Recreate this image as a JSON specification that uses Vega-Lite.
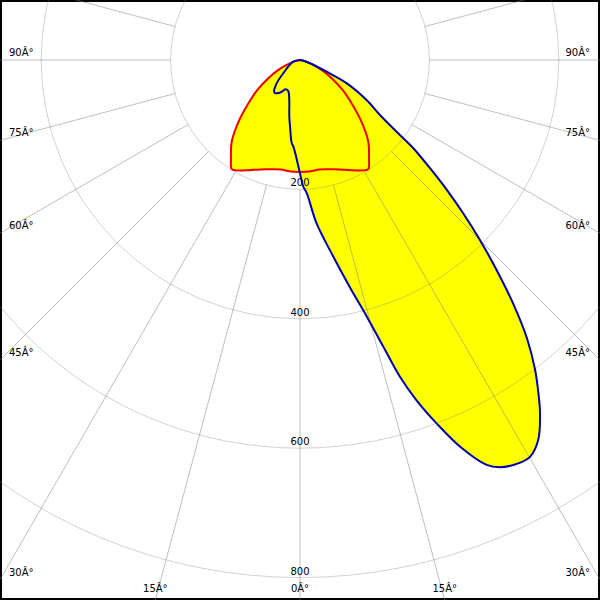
{
  "$schema": "https://vega.github.io/schema/vega-lite/v6.json",
  "width": 600,
  "height": 600,
  "autosize": {"type": "fit", "contains": "padding"},
  "padding": 0,
  "background": "white",
  "config": {
    "view": {"stroke": "black", "strokeWidth": 4},
    "text": {"font": "DejaVu Sans", "fontSize": 10, "color": "black"}
  },
  "datasets": {
    "red": [
      {"a": -90, "i": 0}, {"a": -85, "i": 1}, {"a": -80, "i": 4}, {"a": -75, "i": 10},
      {"a": -70, "i": 22}, {"a": -65, "i": 38}, {"a": -60, "i": 57}, {"a": -55, "i": 80},
      {"a": -50, "i": 104}, {"a": -45, "i": 134}, {"a": -40, "i": 164}, {"a": -35, "i": 186},
      {"a": -32, "i": 199}, {"a": -30, "i": 197}, {"a": -25, "i": 188}, {"a": -20, "i": 180},
      {"a": -15, "i": 175}, {"a": -10, "i": 172}, {"a": -5, "i": 173}, {"a": 0, "i": 173},
      {"a": 5, "i": 173}, {"a": 10, "i": 172}, {"a": 15, "i": 175}, {"a": 20, "i": 180},
      {"a": 25, "i": 188}, {"a": 30, "i": 197}, {"a": 32, "i": 199}, {"a": 35, "i": 186},
      {"a": 40, "i": 164}, {"a": 45, "i": 134}, {"a": 50, "i": 104}, {"a": 55, "i": 80},
      {"a": 60, "i": 57}, {"a": 65, "i": 38}, {"a": 70, "i": 22}, {"a": 75, "i": 10},
      {"a": 80, "i": 4}, {"a": 85, "i": 1}, {"a": 90, "i": 0}
    ],
    "blue": [
      {"a": -90, "i": 0}, {"a": -76, "i": 11}, {"a": -51.5, "i": 33}, {"a": -45, "i": 51},
      {"a": -39.5, "i": 63}, {"a": -37, "i": 64}, {"a": -33, "i": 61}, {"a": -29, "i": 55},
      {"a": -27, "i": 51}, {"a": -24, "i": 50}, {"a": -20, "i": 52}, {"a": -15, "i": 64},
      {"a": -10.7, "i": 89}, {"a": -8.5, "i": 104}, {"a": -5.7, "i": 129}, {"a": -4.4, "i": 134},
      {"a": 0, "i": 175}, {"a": 1.5, "i": 196}, {"a": 2.9, "i": 206}, {"a": 5.8, "i": 254},
      {"a": 9.6, "i": 308}, {"a": 12.4, "i": 360}, {"a": 14.6, "i": 410}, {"a": 16.2, "i": 461},
      {"a": 17.5, "i": 513}, {"a": 18.9, "i": 556}, {"a": 20.6, "i": 600}, {"a": 22.5, "i": 647},
      {"a": 24.75, "i": 689}, {"a": 26.15, "i": 701}, {"a": 28, "i": 708}, {"a": 30.1, "i": 709},
      {"a": 32.1, "i": 693}, {"a": 34.2, "i": 660}, {"a": 35.8, "i": 629}, {"a": 37.2, "i": 601},
      {"a": 39.2, "i": 555}, {"a": 41.2, "i": 500}, {"a": 43.1, "i": 445}, {"a": 45, "i": 393},
      {"a": 46.8, "i": 346}, {"a": 48.5, "i": 303}, {"a": 50.2, "i": 262}, {"a": 52.1, "i": 222},
      {"a": 53.4, "i": 186}, {"a": 55.5, "i": 150}, {"a": 59, "i": 120}, {"a": 63.5, "i": 81},
      {"a": 66.3, "i": 45}, {"a": 71.7, "i": 16}, {"a": 80, "i": 4}, {"a": 90, "i": 0}
    ],
    "rings": [{"r": 200}, {"r": 400}, {"r": 600}, {"r": 800}],
    "spokes": [
      {"a": -165}, {"a": -150}, {"a": -135}, {"a": -120}, {"a": -105}, {"a": -90},
      {"a": -75}, {"a": -60}, {"a": -45}, {"a": -30}, {"a": -15}, {"a": 0},
      {"a": 15}, {"a": 30}, {"a": 45}, {"a": 60}, {"a": 75}, {"a": 90},
      {"a": 105}, {"a": 120}, {"a": 135}, {"a": 150}, {"a": 165}, {"a": 180}
    ],
    "sideLabels": [
      {"a": 90, "t": "90Â°"}, {"a": 75, "t": "75Â°"}, {"a": 60, "t": "60Â°"},
      {"a": 45, "t": "45Â°"}, {"a": 30, "t": "30Â°"}
    ],
    "bottomLabels": [
      {"a": -15, "t": "15Â°"}, {"a": 0, "t": "0Â°"}, {"a": 15, "t": "15Â°"}
    ]
  },
  "layer": [
    {
      "data": {"name": "red"},
      "transform": [
        {"calculate": "datum.i*sin(datum.a*PI/180)", "as": "x"},
        {"calculate": "-datum.i*cos(datum.a*PI/180)", "as": "y"}
      ],
      "mark": {"type": "line", "fill": "#ffff00", "strokeWidth": 0, "interpolate": "catmull-rom", "clip": true},
      "encoding": {
        "x": {"field": "x", "type": "quantitative", "scale": {"domain": [-463.7, 463.7], "nice": false, "zero": false}, "axis": null},
        "y": {"field": "y", "type": "quantitative", "scale": {"domain": [-834.6, 92.7], "nice": false, "zero": false}, "axis": null},
        "order": {"field": "a", "type": "quantitative"}
      }
    },
    {
      "data": {"name": "blue"},
      "transform": [
        {"calculate": "datum.i*sin(datum.a*PI/180)", "as": "x"},
        {"calculate": "-datum.i*cos(datum.a*PI/180)", "as": "y"}
      ],
      "mark": {"type": "line", "fill": "#ffff00", "strokeWidth": 0, "interpolate": "catmull-rom", "clip": true},
      "encoding": {
        "x": {"field": "x", "type": "quantitative", "scale": {"domain": [-463.7, 463.7], "nice": false, "zero": false}, "axis": null},
        "y": {"field": "y", "type": "quantitative", "scale": {"domain": [-834.6, 92.7], "nice": false, "zero": false}, "axis": null},
        "order": {"field": "a", "type": "quantitative"}
      }
    },
    {
      "data": {"name": "rings"},
      "mark": {"type": "point", "shape": "circle", "filled": false, "color": "#808080", "strokeOpacity": 0.5, "strokeWidth": 1, "clip": true},
      "encoding": {
        "x": {"datum": 0, "type": "quantitative", "scale": {"domain": [-463.7, 463.7], "nice": false, "zero": false}, "axis": null},
        "y": {"datum": 0, "type": "quantitative", "scale": {"domain": [-834.6, 92.7], "nice": false, "zero": false}, "axis": null},
        "size": {"field": "r", "type": "quantitative", "scale": {"type": "pow", "exponent": 2, "domain": [0, 800], "range": [0, 1071640]}, "legend": null}
      }
    },
    {
      "data": {"name": "spokes"},
      "transform": [
        {"calculate": "200*sin(datum.a*PI/180)", "as": "x"},
        {"calculate": "-200*cos(datum.a*PI/180)", "as": "y"},
        {"calculate": "1500*sin(datum.a*PI/180)", "as": "x2"},
        {"calculate": "-1500*cos(datum.a*PI/180)", "as": "y2"}
      ],
      "mark": {"type": "rule", "color": "#808080", "strokeOpacity": 0.5, "strokeWidth": 1, "clip": true},
      "encoding": {
        "x": {"field": "x", "type": "quantitative", "scale": {"domain": [-463.7, 463.7], "nice": false, "zero": false}, "axis": null},
        "y": {"field": "y", "type": "quantitative", "scale": {"domain": [-834.6, 92.7], "nice": false, "zero": false}, "axis": null},
        "x2": {"field": "x2"},
        "y2": {"field": "y2"}
      }
    },
    {
      "data": {"name": "red"},
      "transform": [
        {"calculate": "datum.i*sin(datum.a*PI/180)", "as": "x"},
        {"calculate": "-datum.i*cos(datum.a*PI/180)", "as": "y"}
      ],
      "mark": {"type": "line", "color": "#ee0000", "strokeWidth": 2, "interpolate": "catmull-rom", "clip": true},
      "encoding": {
        "x": {"field": "x", "type": "quantitative", "scale": {"domain": [-463.7, 463.7], "nice": false, "zero": false}, "axis": null},
        "y": {"field": "y", "type": "quantitative", "scale": {"domain": [-834.6, 92.7], "nice": false, "zero": false}, "axis": null},
        "order": {"field": "a", "type": "quantitative"}
      }
    },
    {
      "data": {"name": "blue"},
      "transform": [
        {"calculate": "datum.i*sin(datum.a*PI/180)", "as": "x"},
        {"calculate": "-datum.i*cos(datum.a*PI/180)", "as": "y"}
      ],
      "mark": {"type": "line", "color": "#0000aa", "strokeWidth": 2, "interpolate": "catmull-rom", "clip": true},
      "encoding": {
        "x": {"field": "x", "type": "quantitative", "scale": {"domain": [-463.7, 463.7], "nice": false, "zero": false}, "axis": null},
        "y": {"field": "y", "type": "quantitative", "scale": {"domain": [-834.6, 92.7], "nice": false, "zero": false}, "axis": null},
        "order": {"field": "a", "type": "quantitative"}
      }
    },
    {
      "data": {"name": "rings"},
      "transform": [{"calculate": "-datum.r", "as": "y"}],
      "mark": {"type": "text", "align": "center", "baseline": "middle", "dy": -6},
      "encoding": {
        "x": {"datum": 0, "type": "quantitative", "scale": {"domain": [-463.7, 463.7], "nice": false, "zero": false}, "axis": null},
        "y": {"field": "y", "type": "quantitative", "scale": {"domain": [-834.6, 92.7], "nice": false, "zero": false}, "axis": null},
        "text": {"field": "r", "type": "quantitative"}
      }
    },
    {
      "data": {"name": "sideLabels"},
      "transform": [
        {"calculate": "-463.7", "as": "x"},
        {"calculate": "-463.7/tan(datum.a*PI/180)", "as": "y"}
      ],
      "mark": {"type": "text", "align": "left", "baseline": "middle", "dx": 9, "dy": -7},
      "encoding": {
        "x": {"field": "x", "type": "quantitative", "scale": {"domain": [-463.7, 463.7], "nice": false, "zero": false}, "axis": null},
        "y": {"field": "y", "type": "quantitative", "scale": {"domain": [-834.6, 92.7], "nice": false, "zero": false}, "axis": null},
        "text": {"field": "t", "type": "nominal"}
      }
    },
    {
      "data": {"name": "sideLabels"},
      "transform": [
        {"calculate": "463.7", "as": "x"},
        {"calculate": "-463.7/tan(datum.a*PI/180)", "as": "y"}
      ],
      "mark": {"type": "text", "align": "right", "baseline": "middle", "dx": -10, "dy": -7},
      "encoding": {
        "x": {"field": "x", "type": "quantitative", "scale": {"domain": [-463.7, 463.7], "nice": false, "zero": false}, "axis": null},
        "y": {"field": "y", "type": "quantitative", "scale": {"domain": [-834.6, 92.7], "nice": false, "zero": false}, "axis": null},
        "text": {"field": "t", "type": "nominal"}
      }
    },
    {
      "data": {"name": "bottomLabels"},
      "transform": [
        {"calculate": "834.6*tan(datum.a*PI/180)", "as": "x"},
        {"calculate": "-834.6", "as": "y"}
      ],
      "mark": {"type": "text", "align": "center", "baseline": "middle", "dy": -11},
      "encoding": {
        "x": {"field": "x", "type": "quantitative", "scale": {"domain": [-463.7, 463.7], "nice": false, "zero": false}, "axis": null},
        "y": {"field": "y", "type": "quantitative", "scale": {"domain": [-834.6, 92.7], "nice": false, "zero": false}, "axis": null},
        "text": {"field": "t", "type": "nominal"}
      }
    }
  ]
}
